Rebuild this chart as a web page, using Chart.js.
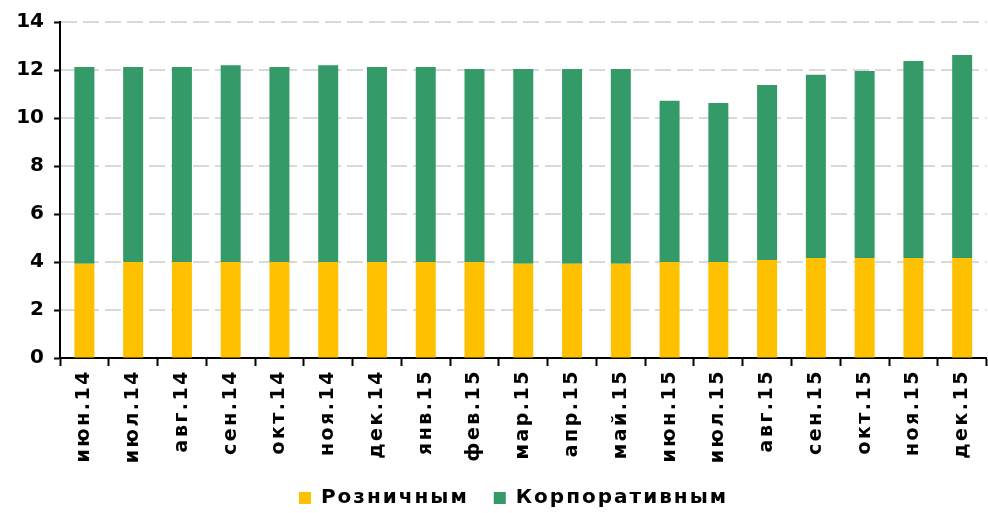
<!DOCTYPE html>
<html>
<head>
<meta charset="utf-8">
<script src="https://cdn.jsdelivr.net/npm/chart.js@4"></script>
<style>
  html, body { margin: 0; padding: 0; background: #ffffff; }
  #wrap { width: 988px; height: 513px; position: relative; }
</style>
</head>
<body>
<div id="wrap"><canvas id="c"></canvas></div>
<script>
const categories = ["июн.14","июл.14","авг.14","сен.14","окт.14","ноя.14","дек.14","янв.15","фев.15","мар.15","апр.15","май.15","июн.15","июл.15","авг.15","сен.15","окт.15","ноя.15","дек.15"];
const retail =    [3.93, 4.0, 4.0, 4.0, 4.0, 4.0, 4.0, 4.0, 4.0, 3.93, 3.93, 3.93, 4.0, 4.0, 4.08, 4.17, 4.17, 4.17, 4.17];
const corporate = [8.19, 8.12, 8.12, 8.2, 8.12, 8.2, 8.12, 8.12, 8.04, 8.11, 8.11, 8.11, 6.72, 6.63, 7.3, 7.63, 7.79, 8.21, 8.46];
const yTicks = [0, 2, 4, 6, 8, 10, 12, 14];

const FONT = "'DejaVu Sans', Verdana, sans-serif";

const spacingPlugin = {
  id: 'spacing',
  beforeLayout(chart) { chart.ctx.letterSpacing = '2px'; },
  afterLayout(chart) {
    chart.ctx.letterSpacing = '0px';
    const xs = chart.scales.x;
    if (xs && !xs._spPatched) {
      const orig = xs.drawLabels;
      xs.drawLabels = function (area) {
        const c = this.ctx, p = c.letterSpacing;
        c.letterSpacing = '2.5px';
        orig.call(this, area);
        c.letterSpacing = p;
      };
      xs._spPatched = true;
    }
    const lg = chart.legend;
    if (lg) {
      lg.left += 40;
      if (!lg._spPatched) {
        const origD = lg.draw;
        lg.draw = function () {
          const c = this.ctx, p = c.letterSpacing;
          c.letterSpacing = '2px';
          origD.apply(this, arguments);
          c.letterSpacing = p;
        };
        lg._spPatched = true;
      }
    }
  }
};

const dashedGrid = {
  id: 'dashedGrid',
  beforeDatasetsDraw(chart) {
    const ys = chart.scales.y, area = chart.chartArea, c = chart.ctx;
    c.save();
    c.strokeStyle = '#d9d9d9';
    c.lineWidth = 2;
    c.setLineDash([16, 6]);
    yTicks.forEach(v => {
      if (v === 0) return;
      const y = Math.round(ys.getPixelForValue(v));
      c.beginPath();
      c.moveTo(area.left + 1, y);
      c.lineTo(area.right, y);
      c.stroke();
    });
    c.restore();
  }
};

new Chart(document.getElementById('c'), {
  type: 'bar',
  data: {
    labels: categories,
    datasets: [
      { label: 'Розничным', data: retail, backgroundColor: '#FFC000', barPercentage: 0.41, categoryPercentage: 1.0 },
      { label: 'Корпоративным', data: corporate, backgroundColor: '#349a68', barPercentage: 0.41, categoryPercentage: 1.0 }
    ]
  },
  plugins: [spacingPlugin, dashedGrid],
  options: {
    responsive: true,
    maintainAspectRatio: false,
    animation: false,
    layout: { padding: { top: 12, right: 1, left: 0, bottom: -5 } },
    plugins: {
      tooltip: { enabled: false },
      legend: {
        position: 'bottom',
        labels: {
          color: '#000',
          font: { family: FONT, size: 20, weight: 'bold' },
          boxWidth: 12,
          boxHeight: 12,
          padding: 25
        }
      }
    },
    scales: {
      x: {
        stacked: true,
        offset: true,
        border: { display: true, color: '#000', width: 2 },
        grid: { offset: true, drawOnChartArea: false, drawTicks: true, tickLength: 8, tickColor: '#000', tickWidth: 2 },
        ticks: {
          color: '#000',
          font: { family: FONT, size: 19, weight: 'bold' },
          minRotation: 90,
          maxRotation: 90,
          autoSkip: false,
          padding: 3
        },
        afterFit: (s) => { s.height = 105; }
      },
      y: {
        stacked: true,
        min: 0,
        max: 14,
        afterBuildTicks: (s) => { s.ticks = yTicks.map(v => ({ value: v })); },
        border: { display: true, color: '#000', width: 2 },
        grid: {
          drawOnChartArea: false,
          drawTicks: true,
          tickLength: 6,
          tickColor: '#000',
          tickWidth: 2
        },
        ticks: {
          color: '#000',
          font: { family: FONT, size: 20, weight: 'bold' },
          padding: 10
        },
        afterFit: (s) => { s.width = 60; }
      }
    }
  }
});
</script>
</body>
</html>
